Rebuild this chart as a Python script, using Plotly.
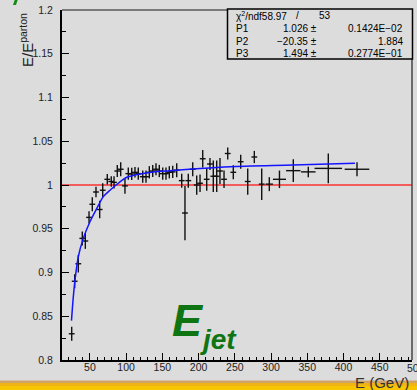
import plotly.graph_objects as go

# ---------------- data ----------------
E_GEV = [24.9, 29.0, 34.0, 39.5, 43.7, 48.8, 53.3, 58.4, 63.5, 67.7,
         74.0, 79.5, 83.3, 87.8, 92.5, 98.4, 103.0, 107.7, 112.2, 116.8,
         122.9, 127.4, 132.0, 136.7, 141.2, 145.8, 150.5, 155.0, 159.6, 164.3,
         169.8, 176.7, 181.2, 185.8, 191.9, 197.4, 202.0, 205.7, 211.2, 215.7,
         220.3, 225.0, 229.5, 235.1, 240.2, 247.9, 258.1, 267.8, 276.9, 287.1,
         297.6, 311.6, 330.7, 351.4, 379.0, 418.6]
RATIO = [0.830, 0.890, 0.910, 0.939, 0.936, 0.963, 0.978, 0.992, 0.972, 0.994,
         1.0065, 1.004, 1.003, 1.016, 1.018, 0.999, 1.013, 1.0126, 1.0145, 1.013,
         1.0095, 1.0095, 1.0145, 1.016, 1.018, 1.016, 1.013, 1.013, 1.0145, 1.015,
         1.017, 1.005, 0.968, 1.005, 1.018, 1.000, 1.002, 1.030, 1.0065, 1.024,
         1.010, 1.010, 1.016, 1.0065, 1.036, 1.0145, 1.0266, 1.004, 1.032, 1.001,
         1.001, 1.0065, 1.0164, 1.015, 1.019, 1.018]
RATIO_ERR = [0.008, 0.008, 0.010, 0.008, 0.009, 0.007, 0.008, 0.006, 0.010, 0.008,
             0.006, 0.006, 0.007, 0.007, 0.008, 0.009, 0.007, 0.007, 0.006, 0.007,
             0.007, 0.007, 0.007, 0.007, 0.007, 0.007, 0.007, 0.007, 0.007, 0.007,
             0.008, 0.008, 0.031, 0.008, 0.008, 0.011, 0.010, 0.010, 0.013, 0.007,
             0.018, 0.018, 0.015, 0.010, 0.007, 0.008, 0.008, 0.015, 0.007, 0.018,
             0.008, 0.010, 0.013, 0.006, 0.017, 0.008]
E_ERR = [4] * 50 + [5, 9, 10, 10, 19, 17]

FIT_E = [24.6, 27.1, 29.4, 34.0, 40.9, 50.1, 59.4, 68.5, 77.7, 89.2,
         100.8, 119.1, 137.5, 160.5, 202.0, 243.3, 330.3, 415.8]
FIT_RATIO = [0.845, 0.872, 0.891, 0.918, 0.939, 0.958, 0.973, 0.9867, 0.994, 1.002,
             1.0088, 1.0126, 1.0149, 1.0164, 1.019, 1.021, 1.0229, 1.0248]

REF_LEVEL = 1.0
X_RANGE = [11.5, 494.5]
Y_RANGE = [0.8, 1.2]

STATS_ROWS = [("P1", "1.026 \u00b1", "0.1424E\u221202"),
              ("P2", "\u221220.35 \u00b1", "1.884"),
              ("P3", "1.494 \u00b1", "0.2774E\u221201")]

# ---------------- layout helpers ----------------
W, H = 417, 390
L, R, T, B = 62, 412, 10, 360
PW, PH = R - L, B - T


def px(x):
    return (x - L) / PW


def py(y):
    return (B - y) / PH


FONT = "Liberation Sans, Arial, Helvetica, sans-serif"
BG = "#dcdcdc"

fig = go.Figure()

fig.add_trace(go.Scatter(
    x=E_GEV, y=RATIO, mode="markers",
    marker=dict(size=1, color="#111111"),
    error_y=dict(type="data", array=RATIO_ERR, width=0, thickness=1.4, color="#111111"),
    error_x=dict(type="data", array=E_ERR, width=0, thickness=1.4, color="#111111"),
    showlegend=False, hoverinfo="skip"))

fig.add_trace(go.Scatter(
    x=FIT_E, y=FIT_RATIO, mode="lines",
    line=dict(color="#1414ff", width=1.5, shape="spline", smoothing=0.8),
    showlegend=False, hoverinfo="skip"))

shapes = []
shapes.append(dict(type="line", xref="paper", yref="y", x0=0, x1=1,
                   y0=REF_LEVEL, y1=REF_LEVEL,
                   line=dict(color="#f25c5c", width=2), layer="below"))
shapes.append(dict(type="line", xref="paper", yref="paper", x0=0, x1=1, y0=1, y1=1,
                   line=dict(color="#7a7a7a", width=2)))
shapes.append(dict(type="line", xref="paper", yref="paper", x0=1, x1=1, y0=0, y1=1,
                   line=dict(color="#444444", width=1.5)))
shapes.append(dict(type="rect", xref="paper", yref="paper",
                   x0=px(227.5), x1=px(412.5), y0=py(59), y1=py(9),
                   line=dict(color="black", width=1.5), fillcolor=BG))
shapes.append(dict(type="rect", xref="paper", yref="paper",
                   x0=px(0), x1=px(W), y0=py(383), y1=py(380.5),
                   line=dict(width=0), fillcolor="#cfa26a"))
shapes.append(dict(type="rect", xref="paper", yref="paper",
                   x0=px(0), x1=px(W), y0=py(386), y1=py(383),
                   line=dict(width=0), fillcolor="#f0b414"))
shapes.append(dict(type="rect", xref="paper", yref="paper",
                   x0=px(0), x1=px(W), y0=py(391), y1=py(386),
                   line=dict(width=0), fillcolor="#f8c600"))
shapes.append(dict(type="path", xref="paper", yref="paper",
                   path=f"M {px(13)},{py(5)} L {px(16)},{py(5)} L {px(18)},{py(-1)} L {px(15)},{py(-1)} Z",
                   line=dict(width=0), fillcolor="#138a13"))

ann = []
ann.append(dict(x=px(234), y=py(16), xref="paper", yref="paper", xanchor="left", yanchor="middle",
                text="\u03c7<sup>2</sup>/ndf58.97", showarrow=False,
                font=dict(family=FONT, size=10, color="black")))
ann.append(dict(x=px(297), y=py(16), xref="paper", yref="paper", xanchor="center", yanchor="middle",
                text="/", showarrow=False, font=dict(family=FONT, size=10, color="black")))
ann.append(dict(x=px(333), y=py(16), xref="paper", yref="paper", xanchor="right", yanchor="middle",
                text="53", showarrow=False, font=dict(family=FONT, size=10, color="black")))
for i, (name, val, err) in enumerate(STATS_ROWS):
    yy = 29 + i * 12.3
    ann.append(dict(x=px(234), y=py(yy), xref="paper", yref="paper", xanchor="left", yanchor="middle",
                    text=name, showarrow=False, font=dict(family=FONT, size=10, color="black")))
    ann.append(dict(x=px(319), y=py(yy), xref="paper", yref="paper", xanchor="right", yanchor="middle",
                    text=val, showarrow=False, font=dict(family=FONT, size=10, color="black")))
    ann.append(dict(x=px(405), y=py(yy), xref="paper", yref="paper", xanchor="right", yanchor="middle",
                    text=err, showarrow=False, font=dict(family=FONT, size=10, color="black")))

ann.append(dict(x=px(26), y=py(11), xref="paper", yref="paper", xanchor="center", yanchor="top",
                text="E/E<sup>parton</sup>", textangle=-90, showarrow=False,
                font=dict(family=FONT, size=15, color="#222222")))
ann.append(dict(x=px(382), y=py(382.5), xref="paper", yref="paper", xanchor="center", yanchor="middle",
                text="E (GeV)", showarrow=False,
                font=dict(family=FONT, size=15, color="#333333")))
ann.append(dict(x=px(416), y=py(367.5), xref="paper", yref="paper", xanchor="center", yanchor="middle",
                text="500", showarrow=False,
                font=dict(family=FONT, size=10.5, color="#222222")))
ann.append(dict(x=px(170), y=py(320), xref="paper", yref="paper", xanchor="left", yanchor="middle",
                text="<b><i>E</i></b>", showarrow=False,
                font=dict(family=FONT, size=45, color="#0f7412")))
ann.append(dict(x=px(197), y=py(339), xref="paper", yref="paper", xanchor="left", yanchor="middle",
                text="<b><i>jet</i></b>", showarrow=False,
                font=dict(family=FONT, size=28, color="#0f7412")))

fig.update_layout(
    width=W, height=H,
    margin=dict(l=L, r=W - R, t=T, b=H - B, pad=0),
    paper_bgcolor=BG, plot_bgcolor=BG,
    shapes=shapes, annotations=ann,
    font=dict(family=FONT, size=10.5, color="#222222"),
    xaxis=dict(range=X_RANGE, showgrid=False, zeroline=False,
               showline=True, linecolor="black", linewidth=2,
               ticks="inside", ticklen=7, tickwidth=1, tickcolor="black",
               tick0=0, dtick=50, ticklabelstandoff=-4,
               minor=dict(dtick=10, tick0=0, ticks="inside", ticklen=3.5, tickcolor="black", tickwidth=1),
               tickfont=dict(family=FONT, size=10.5, color="#222222")),
    yaxis=dict(range=Y_RANGE, showgrid=False, zeroline=False,
               showline=True, linecolor="black", linewidth=2,
               ticks="inside", ticklen=7, tickwidth=1, tickcolor="black",
               tick0=0.8, dtick=0.05, ticklabelstandoff=5,
               minor=dict(dtick=0.025, tick0=0.8, ticks="inside", ticklen=4, tickcolor="black", tickwidth=1),
               tickfont=dict(family=FONT, size=10.5, color="#222222")),
)

fig.write_html("out.html")
